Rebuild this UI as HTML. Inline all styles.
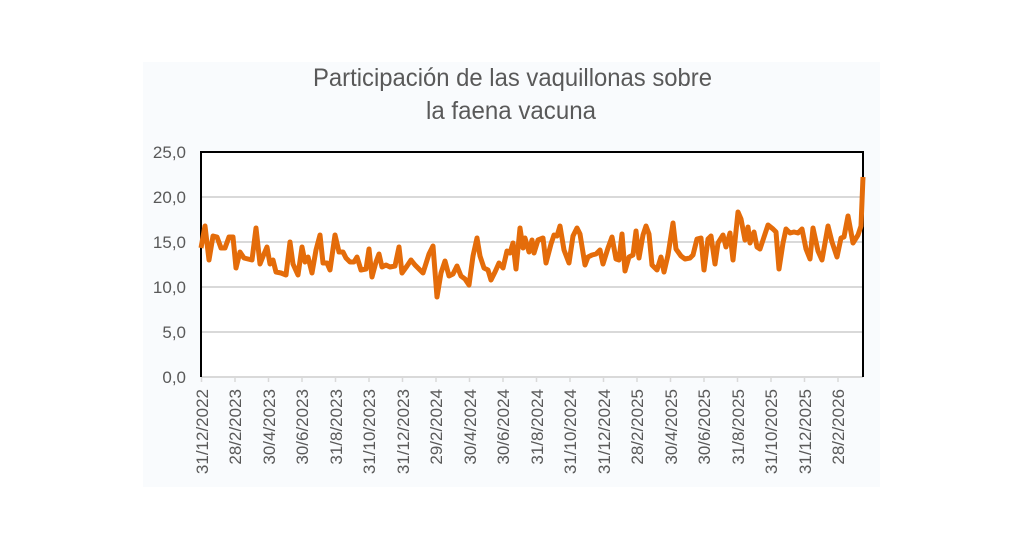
<!DOCTYPE html>
<html><head><meta charset="utf-8"><style>
html,body{margin:0;padding:0;background:#fff;}
body{width:1024px;height:535px;overflow:hidden;position:relative;font-family:"Liberation Sans",sans-serif;}
</style></head><body>
<svg width="1024" height="535" xmlns="http://www.w3.org/2000/svg" style="position:absolute;left:0;top:0">
<rect x="143" y="62" width="737" height="425" fill="#f9fbfd"/>
<rect x="201" y="152" width="662" height="225" fill="#ffffff"/>
<g font-family="Liberation Sans, sans-serif" fill="#595959">
<text x="313" y="86" font-size="25" textLength="399" lengthAdjust="spacingAndGlyphs">Participación  de las  vaquillonas  sobre</text>
<text x="426" y="119" font-size="25" textLength="170" lengthAdjust="spacingAndGlyphs">la faena vacuna</text>
</g>
<g stroke="#d9d9d9" stroke-width="2">
<line x1="201" y1="197" x2="863" y2="197"/>
<line x1="201" y1="242" x2="863" y2="242"/>
<line x1="201" y1="287" x2="863" y2="287"/>
<line x1="201" y1="332" x2="863" y2="332"/>
<line x1="201" y1="377" x2="863" y2="377"/>
</g>
<g stroke="#d9d9d9" stroke-width="1.5">
<line x1="201.5" y1="377" x2="201.5" y2="382"/><line x1="235" y1="377" x2="235" y2="382"/><line x1="268.5" y1="377" x2="268.5" y2="382"/><line x1="302" y1="377" x2="302" y2="382"/><line x1="335.5" y1="377" x2="335.5" y2="382"/><line x1="369" y1="377" x2="369" y2="382"/><line x1="402.5" y1="377" x2="402.5" y2="382"/><line x1="436" y1="377" x2="436" y2="382"/><line x1="469.5" y1="377" x2="469.5" y2="382"/><line x1="503" y1="377" x2="503" y2="382"/><line x1="536.5" y1="377" x2="536.5" y2="382"/><line x1="570" y1="377" x2="570" y2="382"/><line x1="603.5" y1="377" x2="603.5" y2="382"/><line x1="637" y1="377" x2="637" y2="382"/><line x1="670.5" y1="377" x2="670.5" y2="382"/><line x1="704" y1="377" x2="704" y2="382"/><line x1="737.5" y1="377" x2="737.5" y2="382"/><line x1="771" y1="377" x2="771" y2="382"/><line x1="804.5" y1="377" x2="804.5" y2="382"/><line x1="838" y1="377" x2="838" y2="382"/>
</g>
<polyline fill="none" stroke="#000" stroke-width="2" points="201,377 201,152 863,152 863,377"/>
<g font-family="Liberation Sans, sans-serif" font-size="17" fill="#595959" text-anchor="end">
<text x="186" y="158">25,0</text><text x="186" y="203">20,0</text><text x="186" y="248">15,0</text><text x="186" y="293">10,0</text><text x="186" y="338">5,0</text><text x="186" y="383">0,0</text>
</g>
<g font-family="Liberation Sans, sans-serif" font-size="17" fill="#595959" text-anchor="end">
<text transform="translate(208,389) rotate(-90)">31/12/2022</text>
<text transform="translate(241,389) rotate(-90)">28/2/2023</text>
<text transform="translate(275,389) rotate(-90)">30/4/2023</text>
<text transform="translate(308,389) rotate(-90)">30/6/2023</text>
<text transform="translate(342,389) rotate(-90)">31/8/2023</text>
<text transform="translate(375,389) rotate(-90)">31/10/2023</text>
<text transform="translate(409,389) rotate(-90)">31/12/2023</text>
<text transform="translate(442,389) rotate(-90)">29/2/2024</text>
<text transform="translate(476,389) rotate(-90)">30/4/2024</text>
<text transform="translate(509,389) rotate(-90)">30/6/2024</text>
<text transform="translate(543,389) rotate(-90)">31/8/2024</text>
<text transform="translate(576,389) rotate(-90)">31/10/2024</text>
<text transform="translate(610,389) rotate(-90)">31/12/2024</text>
<text transform="translate(643,389) rotate(-90)">28/2/2025</text>
<text transform="translate(677,389) rotate(-90)">30/4/2025</text>
<text transform="translate(710,389) rotate(-90)">30/6/2025</text>
<text transform="translate(744,389) rotate(-90)">31/8/2025</text>
<text transform="translate(777,389) rotate(-90)">31/10/2025</text>
<text transform="translate(811,389) rotate(-90)">31/12/2025</text>
<text transform="translate(844,389) rotate(-90)">28/2/2026</text>
</g>
<polyline fill="none" stroke="#e46c0a" stroke-width="5" stroke-linejoin="round" points="201,248 205,226 209,260 213,236 217,237 221,248 225,248 229,237 233,237 236,268 240,252 244,258 248,259 252,260 256,228 260,264 264,254 267,247 270,264 273,260 276,272 281,273 286,275 290,242 293,264 298,275 302,247 305,262 308,257 312,273 316,250 320,235 323,263 327,263 330,270 335,235 339,252 343,252 346,258 350,262 354,262 357,257 361,270 366,269 369,249 372,277 376,262 379,254 382,267 386,265 390,267 395,266 399,247 402,273 407,266 411,260 415,265 419,269 423,273 429,254 433,246 437,297 441,273 445,261 449,276 453,274 457,266 461,276 465,279 469,285 473,256 477,238 480,256 484,268 488,270 491,280 495,272 499,263 503,268 507,251 510,253 513,243 516,269 520,228 523,248 525,238 529,252 532,240 534,253 538,240 543,238 546,263 551,244 554,235 557,236 560,226 564,250 569,263 573,236 577,228 580,234 585,265 588,257 592,255 596,254 600,250 603,264 608,248 612,237 616,259 619,260 622,234 625,271 629,257 633,255 636,231 639,258 643,235 646,226 649,234 652,265 657,270 661,257 664,272 668,255 673,223 676,249 681,256 685,259 690,258 693,255 697,239 701,238 704,270 708,239 711,236 715,264 718,243 723,235 726,247 730,233 733,260 738,212 741,219 745,240 748,227 750,243 754,232 757,247 760,249 763,240 768,225 773,229 776,232 779,269 783,243 786,229 790,233 794,232 798,233 802,229 806,249 810,259 813,228 818,251 822,260 828,226 832,242 837,257 841,238 844,237 848,216 853,243 858,235 861,226 863,177"/>
</svg>
</body></html>
